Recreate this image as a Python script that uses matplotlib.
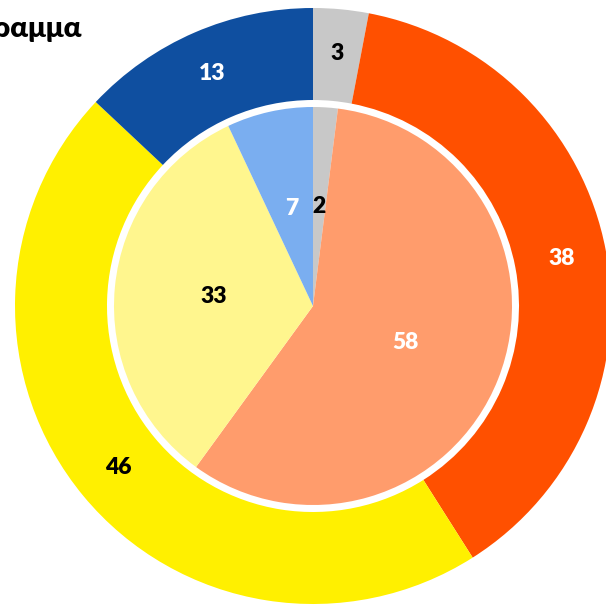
import matplotlib.pyplot as plt

outer_values = [3, 38, 46, 13]
outer_colors = ['#c8c8c8', '#ff5000', '#fff000', '#0f4fa0']
outer_text = ['black', 'white', 'black', 'white']

inner_values = [2, 58, 33, 7]
inner_colors = ['#c8c8c8', '#ff9c6c', '#fff68e', '#7aaef0']
inner_text = ['black', 'white', 'black', 'white']

plt.rcParams['font.family'] = ['Lato', 'DejaVu Sans']

fig = plt.figure(figsize=(6.06, 6.06), dpi=100)
ax = fig.add_axes([0, 0, 1, 1])

cx, cy = 313, 300
lbl = dict(fontsize=16.5, fontweight='heavy', ha='center', va='center')

# outer ring
wedges, texts = ax.pie(outer_values, colors=outer_colors, startangle=90, counterclock=False,
                       center=(cx, cy), radius=298, labels=[str(v) for v in outer_values],
                       labeldistance=0.85, wedgeprops=dict(width=92, linewidth=0),
                       textprops=lbl, frame=True)
for t, c in zip(texts, outer_text):
    t.set_color(c)
    t.set_ha('center')

# white gap between ring and pie
ax.add_patch(plt.Circle((cx, cy), 207, color='white', zorder=0.5))

# inner pie
wedges2, texts2 = ax.pie(inner_values, colors=inner_colors, startangle=90, counterclock=False,
                         center=(cx, cy), radius=199, labels=[str(v) for v in inner_values],
                         labeldistance=0.5, wedgeprops=dict(linewidth=0),
                         textprops=lbl, frame=True)
for t, c in zip(texts2, inner_text):
    t.set_color(c)
    t.set_ha('center')

ax.set_xlim(0, 606)
ax.set_ylim(0, 606)
ax.set_aspect('equal')
ax.axis('off')

ax.text(82, 577, 'πρόγραμμα', fontsize=21, fontweight='heavy', ha='right', va='center')
ax.text(82, 621, 'Συμφωνία με το', fontsize=21, fontweight='heavy', ha='right', va='center')

fig.savefig('out.png', dpi=100)
